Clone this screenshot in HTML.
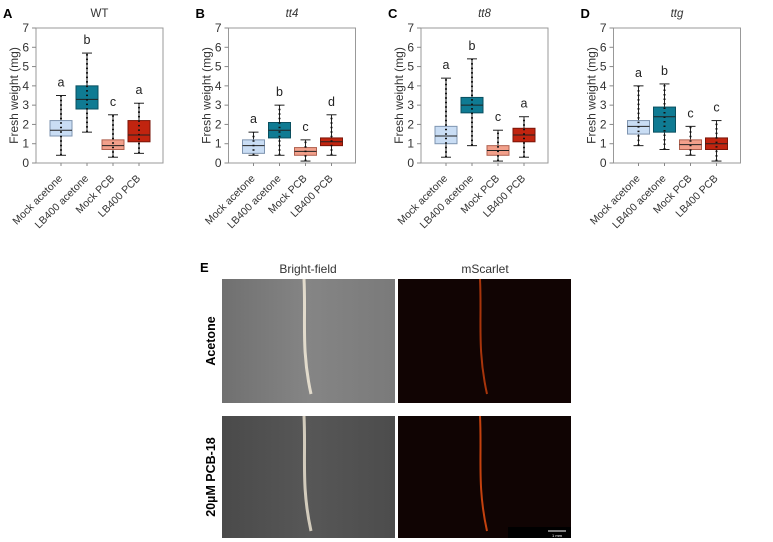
<!DOCTYPE html>
<html><head><meta charset="utf-8"><style>
body{margin:0;background:#fff;width:773px;height:542px;overflow:hidden;font-family:"Liberation Sans",sans-serif}
svg{position:absolute;left:0;top:0}
</style></head><body>
<svg id="fig" width="773" height="542">
<defs>
<linearGradient id="bf1" x1="0" x2="1"><stop offset="0" stop-color="#707070"/><stop offset="0.5" stop-color="#858585"/><stop offset="1" stop-color="#7a7a7a"/></linearGradient>
<linearGradient id="bf2" x1="0" x2="1"><stop offset="0" stop-color="#4a4a4a"/><stop offset="0.5" stop-color="#575757"/><stop offset="1" stop-color="#4c4c4c"/></linearGradient>
</defs>
</svg>
<script>
const categories=["Mock acetone","LB400 acetone","Mock PCB","LB400 PCB"];
const panelTitles=["WT","tt4","tt8","ttg"];
const panelLetters=["A","B","C","D"];
const yTicks=[0,1,2,3,4,5,6,7];
const wtStats=[[0.4,1.4,1.7,2.2,3.5],[1.6,2.8,3.3,4.0,5.7],[0.3,0.7,0.9,1.2,2.5],[0.5,1.1,1.45,2.2,3.1]];
const tt4Stats=[[0.4,0.5,0.9,1.2,1.6],[0.4,1.3,1.7,2.1,3.0],[0.1,0.4,0.6,0.8,1.2],[0.4,0.9,1.1,1.3,2.5]];
const tt8Stats=[[0.3,1.0,1.4,1.9,4.4],[0.9,2.6,3.0,3.4,5.4],[0.1,0.4,0.65,0.9,1.7],[0.3,1.1,1.45,1.8,2.4]];
const ttgStats=[[0.9,1.5,1.9,2.2,4.0],[0.7,1.6,2.4,2.9,4.1],[0.4,0.7,0.95,1.2,1.9],[0.1,0.7,1.0,1.3,2.2]];
const sigLetters=[["a","b","c","a"],["a","b","c","d"],["a","b","c","a"],["a","b","c","c"]];
const allStats=[wtStats,tt4Stats,tt8Stats,ttgStats];
const fills=["#c9ddf4","#0f7b93","#f2a08b","#c1240f"];
const strokes=["#7f95b0","#0a4f5f","#b0614f","#7a1508"];
const NS="http://www.w3.org/2000/svg";
const svg=document.getElementById("fig");
function mk(tag,attrs,parent,text){const e=document.createElementNS(NS,tag);for(const k in attrs)e.setAttribute(k,attrs[k]);if(text!==undefined)e.textContent=text;(parent||svg).appendChild(e);return e;}
const plotL=36,plotR=163,plotT=28,plotB=163,ymax=7;
function yS(v){return plotB-(v/ymax)*(plotB-plotT);}
function xS(i){return 61+i*26;}
for(let p=0;p<4;p++){
  const g=mk("g",{transform:`translate(${p*192.5},0)`});
  
  
  const L=mk("text",{x:3,y:18,"font-size":13,"font-weight":"bold"},g,panelLetters[p]);
  
  const T=mk("text",{x:(plotL+plotR)/2,y:17,"font-size":11.5,"text-anchor":"middle",fill:"#333","font-style":p?"italic":"normal"},g,panelTitles[p]);
  
  const Y=mk("text",{x:0,y:0,"font-size":12,"text-anchor":"middle",fill:"#333",transform:`translate(18,${(plotT+plotB)/2}) rotate(-90)`},g,"Fresh weight (mg)");
  
  const fr=mk("rect",{x:plotL,y:plotT,width:plotR-plotL,height:plotB-plotT,fill:"none",stroke:"#999","stroke-width":1},g);
  
  yTicks.forEach(t=>{
    mk("line",{x1:plotL-4,x2:plotL,y1:yS(t),y2:yS(t),stroke:"#888"},g);
    const tl=mk("text",{x:plotL-7,y:yS(t)+4,"font-size":12,"text-anchor":"end",fill:"#333"},g,t);
    
  });
  allStats[p].forEach((s,i)=>{
    const x=xS(i),w=22;
    const wl=mk("line",{x1:x,x2:x,y1:yS(s[0]),y2:yS(s[4]),stroke:"#222","stroke-width":1},g);
    
    mk("line",{x1:x-5,x2:x+5,y1:yS(s[0]),y2:yS(s[0]),stroke:"#222"},g);
    mk("line",{x1:x-5,x2:x+5,y1:yS(s[4]),y2:yS(s[4]),stroke:"#222"},g);
    const b=mk("rect",{x:x-w/2,y:yS(s[3]),width:w,height:yS(s[1])-yS(s[3]),fill:fills[i],stroke:strokes[i],"stroke-width":1},g);
    
    mk("line",{x1:x-w/2,x2:x+w/2,y1:yS(s[2]),y2:yS(s[2]),stroke:"#222","stroke-width":1},g);
    mk("line",{x1:x,x2:x,y1:yS(s[0]),y2:yS(s[4]),stroke:"#111","stroke-width":2,"stroke-dasharray":"1.5,3"},g);
    const sl=mk("text",{x:x,y:yS(s[4])-9,"font-size":12.5,"text-anchor":"middle",fill:"#222"},g,sigLetters[p][i]);
    
    mk("line",{x1:x,x2:x,y1:plotB,y2:plotB+3,stroke:"#888"},g);
    const xl=mk("text",{x:0,y:0,"font-size":10.5,"text-anchor":"end",fill:"#333",transform:`translate(${x+2},${plotB+16}) rotate(-45)`},g,categories[i]);
    
  });
}
const E=mk("g",{});

const eL=mk("text",{x:200,y:272,"font-size":13,"font-weight":"bold"},E,"E");

const h1=mk("text",{x:308,y:273,"font-size":12,"text-anchor":"middle",fill:"#333"},E,"Bright-field");

const h2=mk("text",{x:485,y:273,"font-size":12,"text-anchor":"middle",fill:"#333"},E,"mScarlet");

const r1=mk("text",{x:0,y:0,"font-size":12.5,"font-weight":"bold","text-anchor":"middle",transform:"translate(215,341) rotate(-90)"},E,"Acetone");

const r2=mk("text",{x:0,y:0,"font-size":12.5,"font-weight":"bold","text-anchor":"middle",transform:"translate(215,477) rotate(-90)"},E,"20µM PCB-18");

const imgs=[[222,279,"url(#bf1)","#ece4d4","bright-field-acetone"],[398,279,"#110403","#b83a0c","mscarlet-acetone"],[222,416,"url(#bf2)","#e0d8c8","bright-field-pcb"],[398,416,"#100403","#d8480f","mscarlet-pcb"]];
imgs.forEach(m=>{
  const r=mk("rect",{x:m[0],y:m[1],width:173,height:m[1]<400?124:122,fill:m[2]},E);
  
  const x0=m[0]+82;
  mk("path",{d:`M${x0},${m[1]} C${x0+2},${m[1]+40} ${x0-3},${m[1]+70} ${x0+7},${m[1]+115}`,stroke:m[3],"stroke-width":m[0]<300?3:2,fill:"none",opacity:0.9},E);
});
mk("rect",{x:508,y:527,width:63,height:11,fill:"#000"},E);
mk("line",{x1:548,x2:566,y1:531,y2:531,stroke:"#fff"},E);
const sb=mk("text",{x:557,y:537,"font-size":4,"text-anchor":"middle",fill:"#fff"},E,"1 mm");

</script>
</body></html>
